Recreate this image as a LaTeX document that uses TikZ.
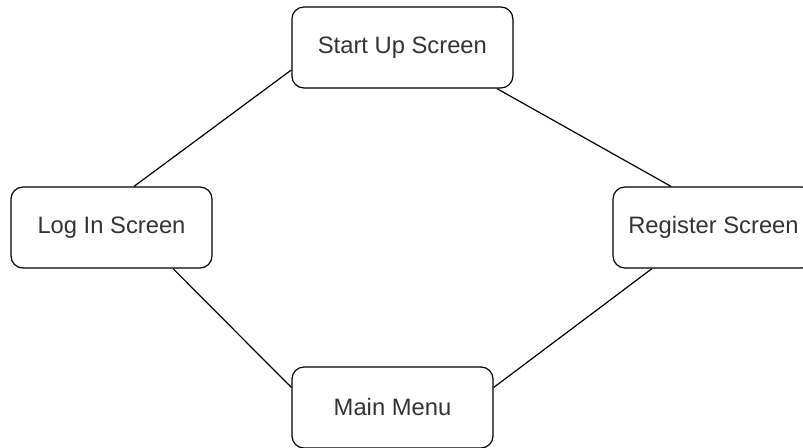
\documentclass[tikz,border=0pt]{standalone}
\usepackage{fontspec}
\setmainfont{Liberation Sans}
\begin{document}
\begin{tikzpicture}[every node/.style={draw, rounded corners=0.3cm, line width=0.3mm, inner sep=0pt, minimum height=2.025cm, text=black!80, font=\fontsize{16.9}{20}\selectfont}]
		% \draw[help lines] (0,0) grid (20,11);
		\useasboundingbox (0,0) rectangle (20.075,11.175);

		\node[minimum width=5.525cm] (start) at (10.06, 9.9875) {Start Up Screen};
		\node[minimum width=5.025cm] (login) at (2.7875, 5.4875) {Log In Screen};
		\node[minimum width=5.025cm] (register) at (17.8375, 5.4875) {Register Screen};
		\node[minimum width=5.025cm] (main) at (9.8125, 0.9875) {Main Menu};
		\draw[line width=0.3mm] ([yshift=-0.5625cm]start.west) -- ([xshift=0.5625cm]login.north);
		\draw[line width=0.3mm] ([xshift=2.3625cm]start.south) -- ([xshift=-1.0625cm]register.north);
		\draw[line width=0.3mm] ([xshift=1.5375cm]login.south) -- ([yshift=0.5cm]main.west);
		\draw[line width=0.3mm] ([xshift=-1.5375cm]register.south) -- ([yshift=0.5cm]main.east);
	\end{tikzpicture}
\end{document}
